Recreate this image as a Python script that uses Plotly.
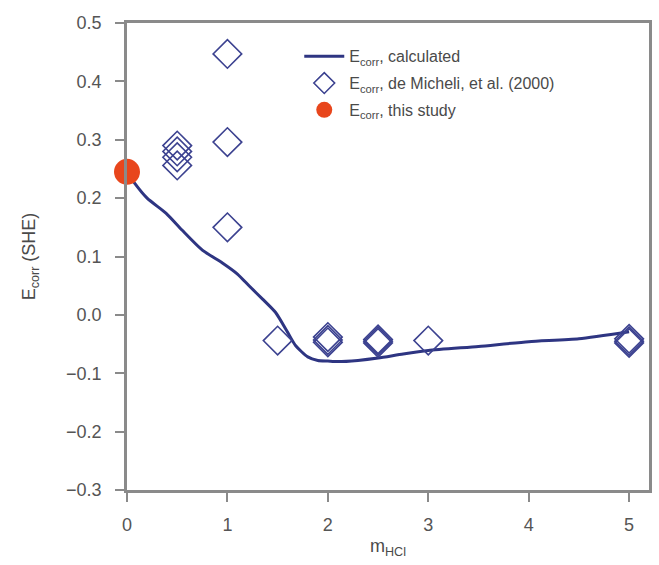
import plotly.graph_objects as go

# Calculated corrosion potential vs HCl molality
calc_m = [0.0, 0.07, 0.2, 0.39, 0.55, 0.75, 0.95, 1.1, 1.22, 1.35, 1.48, 1.6, 1.68, 1.8, 1.9, 2.0, 2.1, 2.3, 2.5, 2.75, 3.0, 3.5, 4.0, 4.5, 5.0]
calc_E = [0.245, 0.227, 0.2, 0.174, 0.145, 0.111, 0.089, 0.07, 0.049, 0.027, 0.004, -0.03, -0.053, -0.072, -0.078, -0.079, -0.08, -0.078, -0.074, -0.067, -0.061, -0.054, -0.046, -0.041, -0.029]

# de Micheli et al. (2000) measurements
lit_m = [0.5, 0.5, 0.5, 0.5, 1.0, 1.0, 1.0, 1.5, 2.0, 2.0, 2.0, 2.5, 2.5, 2.5, 3.0, 5.0, 5.0, 5.0]
lit_E = [0.29, 0.28, 0.27, 0.256, 0.447, 0.296, 0.15, -0.044, -0.038, -0.043, -0.047, -0.042, -0.045, -0.048, -0.044, -0.041, -0.045, -0.048]

# This study
study_m = [0.0]
study_E = [0.245]

x_ticks = [0, 1, 2, 3, 4, 5]
y_ticks = [-0.3, -0.2, -0.1, 0.0, 0.1, 0.2, 0.3, 0.4, 0.5]

navy = "#2e3582"
diamond_col = "#3c4290"
red = "#e8461c"
grey = "#8a8a8a"
text_col = "#4a4a4a"
font_family = "Liberation Sans, Arial, sans-serif"

fig = go.Figure()
fig.add_trace(go.Scatter(
    x=calc_m, y=calc_E, mode="lines",
    line=dict(color=navy, width=3, shape="spline", smoothing=0.6),
    name="E<sub>corr</sub>, calculated", legendgroup="calc",
))
fig.add_trace(go.Scatter(
    x=lit_m, y=lit_E, mode="markers",
    marker=dict(symbol="diamond-open", size=22, color=diamond_col, line=dict(width=1.6)),
    name="E<sub>corr</sub>, de Micheli, et al. (2000)", legendgroup="lit",
))
fig.add_trace(go.Scatter(
    x=study_m, y=study_E, mode="markers",
    marker=dict(symbol="circle", size=26, color=red),
    name="E<sub>corr</sub>, this study", legendgroup="study",
    cliponaxis=False,
))

axis_common = dict(
    showgrid=False, zeroline=False,
    showline=True, linecolor=grey, linewidth=2.5, mirror=True,
    ticks="outside", ticklen=9, tickcolor=grey, tickwidth=1.5,
    tickfont=dict(family=font_family, size=18, color="#555555"),
)

fig.update_layout(
    width=659, height=565,
    margin=dict(l=127, r=7, t=23, b=75),
    paper_bgcolor="white", plot_bgcolor="white",
    font=dict(family=font_family, size=16, color=text_col),
    xaxis=dict(range=[0, 5.198], tickvals=x_ticks, ticktext=[str(v) for v in x_ticks],
               ticklabelstandoff=8,
               title=dict(text="m<sub>HCl</sub>", standoff=6,
                          font=dict(size=18, color=text_col)),
               **axis_common),
    yaxis=dict(range=[-0.3, 0.5], tickvals=y_ticks, tickformat=".1f",
               ticklabelstandoff=10,
               title=dict(text="E<sub>corr</sub> (SHE)", standoff=26,
                          font=dict(size=18, color=text_col)),
               **axis_common),
    legend=dict(x=0.33, y=0.965, xanchor="left", yanchor="top",
                bgcolor="rgba(0,0,0,0)", font=dict(size=16, color=text_col),
                tracegroupgap=3, itemwidth=40),
    showlegend=True,
)

fig.write_html("out.html")
